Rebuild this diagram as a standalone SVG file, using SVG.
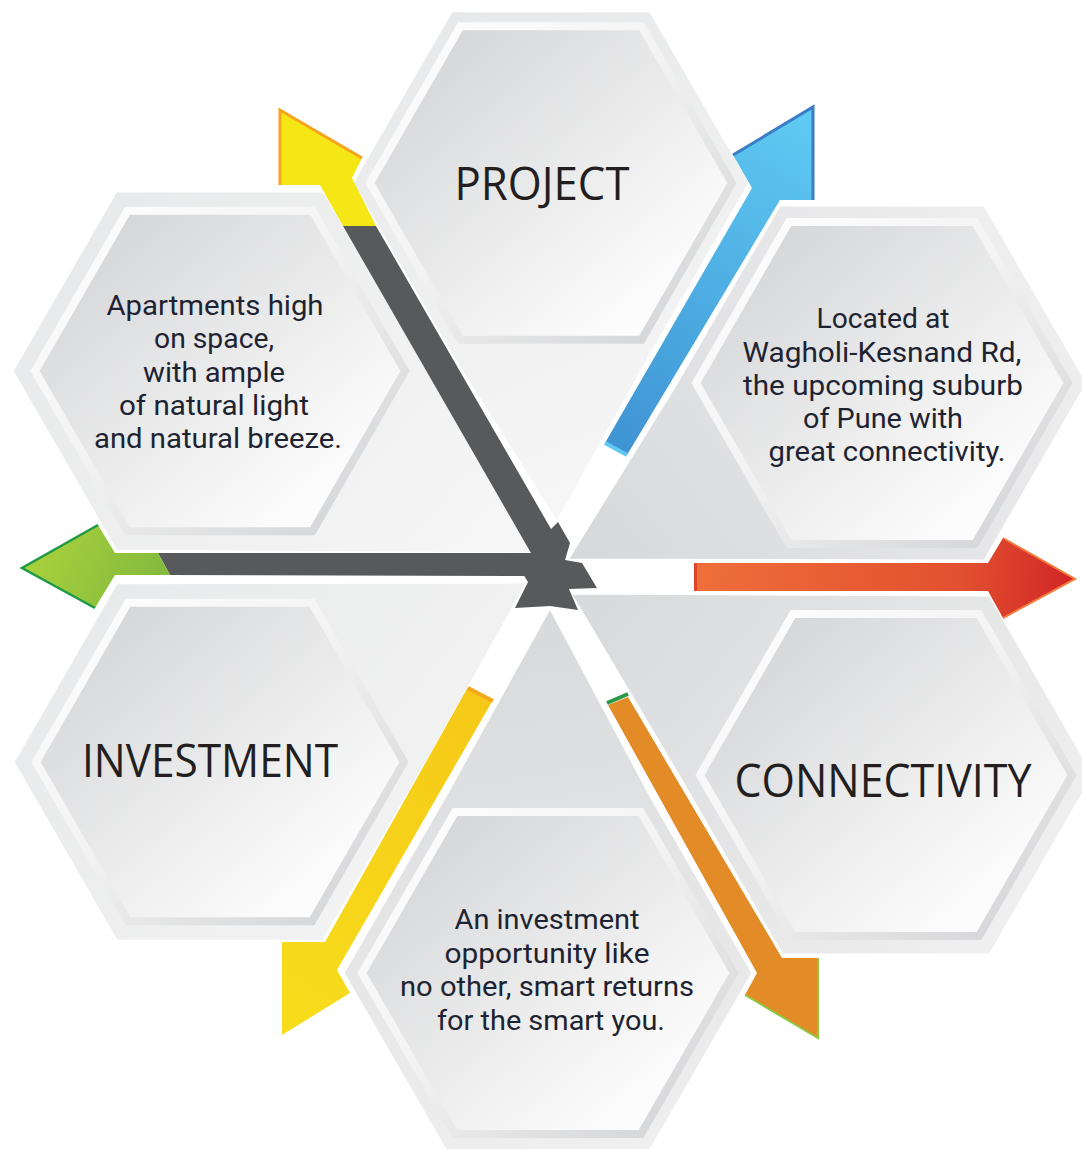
<svg xmlns="http://www.w3.org/2000/svg" width="1082" height="1150" viewBox="0 0 1082 1150">
<defs>
<style>
.frame{stroke:#ffffff;stroke-width:3;stroke-linejoin:miter}
.ring{fill:url(#gIn);stroke:url(#gRing);stroke-width:8;stroke-linejoin:miter}
.title{font-family:"Open Sans","Liberation Sans",sans-serif;font-size:46px;fill:#231f20;text-anchor:middle}
.body{font-family:Roboto,"Liberation Sans",sans-serif;font-size:28px;fill:#1e2331;text-anchor:middle}
.gray{fill:#58595b}
</style>
<linearGradient id="gIn" x1="0" y1="0" x2="1" y2="1"><stop offset="0" stop-color="#cfd0d2"/><stop offset="0.8" stop-color="#fbfbfb"/><stop offset="1" stop-color="#ffffff"/></linearGradient>
<linearGradient id="gRing" x1="0" y1="0" x2="1" y2="1"><stop offset="0" stop-color="#ffffff"/><stop offset="0.45" stop-color="#f3f3f3"/><stop offset="1" stop-color="#cfd0d2"/></linearGradient>
<linearGradient id="gP" gradientUnits="userSpaceOnUse" x1="400" y1="20" x2="620" y2="520"><stop offset="0" stop-color="#e7e8e9"/><stop offset="1" stop-color="#f7f7f7"/></linearGradient>
<linearGradient id="gA" gradientUnits="userSpaceOnUse" x1="60" y1="200" x2="480" y2="550"><stop offset="0" stop-color="#e7e8e9"/><stop offset="1" stop-color="#f6f6f6"/></linearGradient>
<linearGradient id="gL" gradientUnits="userSpaceOnUse" x1="580" y1="560" x2="1000" y2="250"><stop offset="0" stop-color="#d7d8da"/><stop offset="1" stop-color="#eeeeef"/></linearGradient>
<linearGradient id="gC" gradientUnits="userSpaceOnUse" x1="575" y1="595" x2="1000" y2="950"><stop offset="0" stop-color="#d8d9db"/><stop offset="1" stop-color="#f0f0f0"/></linearGradient>
<linearGradient id="gB" gradientUnits="userSpaceOnUse" x1="550" y1="610" x2="640" y2="1150"><stop offset="0" stop-color="#d8d9db"/><stop offset="1" stop-color="#efefef"/></linearGradient>
<linearGradient id="gI" gradientUnits="userSpaceOnUse" x1="80" y1="590" x2="480" y2="920"><stop offset="0" stop-color="#e8e9ea"/><stop offset="1" stop-color="#f5f5f5"/></linearGradient>
<linearGradient id="gBlue" gradientUnits="userSpaceOnUse" x1="800" y1="110" x2="610" y2="450"><stop offset="0" stop-color="#5fcaf3"/><stop offset="1" stop-color="#3f93d3"/></linearGradient>
<linearGradient id="gRed" gradientUnits="userSpaceOnUse" x1="694" y1="570" x2="1075" y2="600"><stop offset="0" stop-color="#ef6f3a"/><stop offset="0.7" stop-color="#e2502f"/><stop offset="1" stop-color="#d02427"/></linearGradient>
<linearGradient id="gYel" gradientUnits="userSpaceOnUse" x1="280" y1="1000" x2="480" y2="700"><stop offset="0" stop-color="#f7dc1c"/><stop offset="1" stop-color="#f6c918"/></linearGradient>
<linearGradient id="gGreen" gradientUnits="userSpaceOnUse" x1="40" y1="540" x2="170" y2="600"><stop offset="0" stop-color="#a8d03c"/><stop offset="1" stop-color="#7fb73e"/></linearGradient>
</defs>
<rect width="1082" height="1150" fill="#ffffff"/>

<g id="node-project">
<polygon class="frame" fill="url(#gP)" points="352,183 451.5,10.7 650.5,10.7 750,183 650.5,355.3 557,523 451.5,355.3"/>
<polygon class="ring" points="370,183 460.5,26.3 641.5,26.3 732,183 641.5,339.7 460.5,339.7"/>
<text class="title" x="542" y="200" textLength="175" lengthAdjust="spacingAndGlyphs">PROJECT</text>
</g>

<g id="node-apartments">
<polygon class="frame" fill="url(#gA)" points="12,371 116,190.9 324,190.9 428,371 535,554 116,551.1"/>
<polygon class="ring" points="35,371 127.5,210.8 312.5,210.8 405,371 312.5,531.2 127.5,531.2"/>
<text class="body" x="215" y="315" textLength="217" lengthAdjust="spacingAndGlyphs">Apartments high</text>
<text class="body" x="214" y="348" textLength="120" lengthAdjust="spacingAndGlyphs">on space,</text>
<text class="body" x="214" y="382" textLength="142" lengthAdjust="spacingAndGlyphs">with ample</text>
<text class="body" x="214" y="415" textLength="190" lengthAdjust="spacingAndGlyphs">of natural light</text>
<text class="body" x="218" y="448" textLength="248" lengthAdjust="spacingAndGlyphs">and natural breeze.</text>
</g>

<g id="node-located">
<polygon class="frame" fill="url(#gL)" points="676.5,383 779.25,205 984.75,205 1087.5,383 984.75,561 567,560"/>
<polygon class="ring" points="696,383 789,221.9 975,221.9 1068,383 975,544.1 789,544.1"/>
<text class="body" x="883" y="328" textLength="133" lengthAdjust="spacingAndGlyphs">Located at</text>
<text class="body" x="882" y="362" textLength="279" lengthAdjust="spacingAndGlyphs">Wagholi-Kesnand Rd,</text>
<text class="body" x="883" y="395" textLength="280" lengthAdjust="spacingAndGlyphs">the upcoming suburb</text>
<text class="body" x="883" y="428" textLength="160" lengthAdjust="spacingAndGlyphs">of Pune with</text>
<text class="body" x="887" y="461" textLength="237" lengthAdjust="spacingAndGlyphs">great connectivity.</text>
</g>

<g id="node-connectivity">
<polygon class="frame" fill="url(#gC)" points="570,593 990,595 1094,775 990,955 782,955 678,775"/>
<polygon class="ring" points="700,775 793,613.9 979,613.9 1072,775 979,936.1 793,936.1"/>
<text class="title" x="883" y="797" textLength="297" lengthAdjust="spacingAndGlyphs">CONNECTIVITY</text>
</g>

<g id="node-bottom">
<polygon class="frame" fill="url(#gB)" points="343,973 445.5,795.5 550,607 650.5,795.5 753,973 650.5,1150.5 445.5,1150.5"/>
<polygon class="ring" points="362,973 455,811.9 641,811.9 734,973 641,1134.1 455,1134.1"/>
<text class="body" x="547" y="929" textLength="185" lengthAdjust="spacingAndGlyphs">An investment</text>
<text class="body" x="547" y="963" textLength="205" lengthAdjust="spacingAndGlyphs">opportunity like</text>
<text class="body" x="547" y="996" textLength="294" lengthAdjust="spacingAndGlyphs">no other, smart returns</text>
<text class="body" x="551" y="1030" textLength="228" lengthAdjust="spacingAndGlyphs">for the smart you.</text>
</g>

<g id="node-investment">
<polygon class="frame" fill="url(#gI)" points="13,762 116.5,582.7 528,582 427,762 323.5,941.3 116.5,941.3"/>
<polygon class="ring" points="36,762 128,602.7 312,602.7 404,762 312,921.3 128,921.3"/>
<text class="title" x="210" y="777" textLength="256" lengthAdjust="spacingAndGlyphs">INVESTMENT</text>
</g>

<g id="connectors">
<polygon class="gray" points="343,226 376,226 562,548 535,560"/>
<polygon fill="#f5e616" points="280,110 362,158 352,178 376,226 343,226 320,185 280,185"/>
<polyline fill="none" stroke="#f6a31b" stroke-width="3" points="280,185 280,110 362,158"/>
<polygon class="gray" points="158,553 540,553 535,576 170,575"/>
<polygon fill="url(#gGreen)" points="22,568 98,525 115,553 158,553 170,575 115,575 95,608"/>
<polyline fill="none" stroke="#1e9a47" stroke-width="2.5" points="98,525 22,568 95,608"/>
<polygon fill="url(#gBlue)" points="813,107 813,200 780,200 627,455 605,443 752,188 733,155"/>
<polyline fill="none" stroke="#3a7ec6" stroke-width="3" points="733,155 813,107 813,200"/>
<line x1="605" y1="443" x2="627" y2="455" stroke="#63c8f1" stroke-width="4"/>
<polygon fill="url(#gRed)" points="694,563 988,563 1003,538 1075,579 1003,618 988,591 694,591"/>
<polyline fill="none" stroke="#f47b3b" stroke-width="2" points="1003,538 1075,579 1003,618"/>
<line x1="695.5" y1="563" x2="695.5" y2="591" stroke="#de4429" stroke-width="3"/>
<polygon fill="#e38c27" points="608,705 628,697 782,958 818,958 818,1038 745,995 757,973"/>
<polyline fill="none" stroke="#8dc63f" stroke-width="2" points="745,995 818,1038 818,958"/>
<line x1="607" y1="703" x2="628" y2="694" stroke="#2a9847" stroke-width="4"/>
<polygon fill="url(#gYel)" points="468,687 493,700 337,970 350,993 282,1035 282,942 325,942"/>
<line x1="468" y1="688" x2="493" y2="701" stroke="#f4a81c" stroke-width="4"/>
<polygon class="gray" points="535,554 545,535 558,522 570,543 565,560 582,563 597,588 569,589 578,610 550,606 515,608 528,582 523,574 530,560"/>
</g>
</svg>
